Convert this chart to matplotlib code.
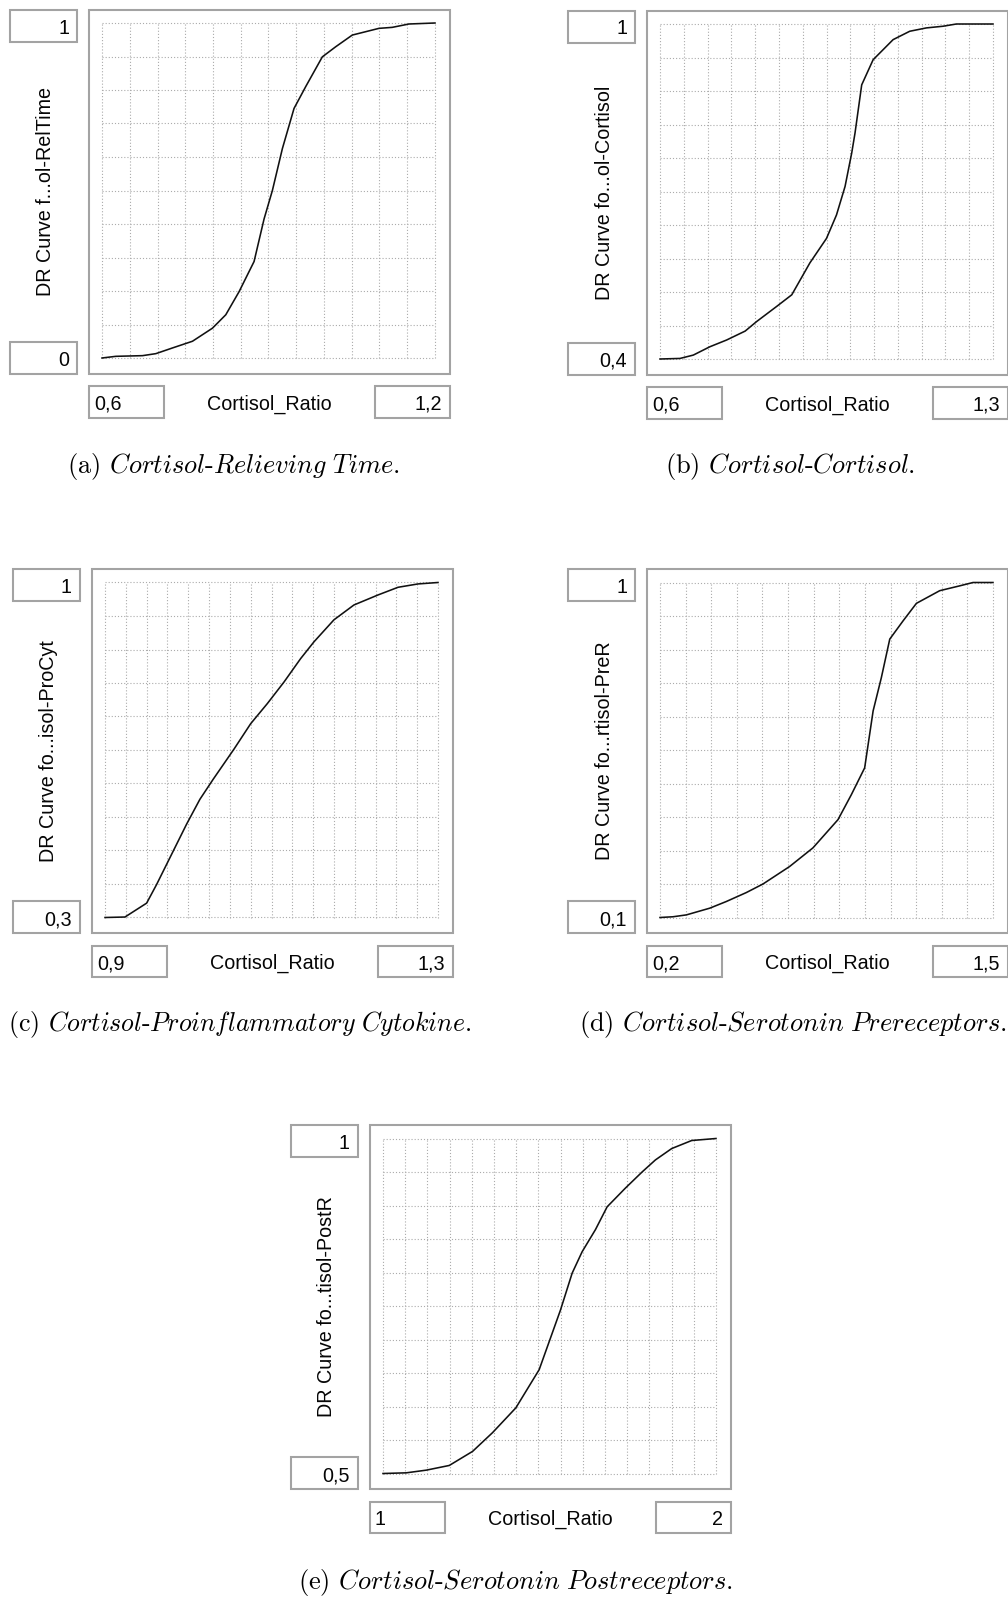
import matplotlib.pyplot as plt
import numpy as np
from matplotlib.patches import Rectangle

plt.rcParams['mathtext.fontset'] = 'cm'

W, H = 1008, 1597

# dose-response curves read from the simulation runs
x_reltime = [0.6, 0.625, 0.673, 0.697, 0.727, 0.763, 0.799, 0.823, 0.847, 0.874,
             0.892, 0.907, 0.925, 0.946, 0.967, 0.997, 1.021, 1.051, 1.099, 1.123,
             1.153, 1.2]
y_reltime = [0.0, 0.005, 0.007, 0.013, 0.030, 0.050, 0.089, 0.129, 0.198, 0.288,
             0.415, 0.500, 0.625, 0.745, 0.810, 0.899, 0.929, 0.964, 0.984, 0.987,
             0.997, 1.0]

x_cortisol = [0.6, 0.642, 0.670, 0.705, 0.740, 0.779, 0.803, 0.845, 0.877, 0.915,
              0.950, 0.971, 0.989, 1.003, 1.010, 1.024, 1.048, 1.090, 1.125, 1.160,
              1.195, 1.223, 1.3]
y_cortisol = [0.4, 0.401, 0.407, 0.422, 0.434, 0.450, 0.467, 0.494, 0.515, 0.572,
              0.616, 0.658, 0.709, 0.769, 0.805, 0.891, 0.936, 0.972, 0.987, 0.993,
              0.996, 1.0, 1.0]

x_procyt = [0.9, 0.924, 0.950, 0.962, 0.978, 0.998, 1.014, 1.030, 1.055, 1.075,
            1.095, 1.115, 1.135, 1.151, 1.175, 1.199, 1.228, 1.252, 1.276, 1.3]
y_procyt = [0.3, 0.301, 0.330, 0.369, 0.425, 0.495, 0.547, 0.589, 0.652, 0.705,
            0.747, 0.792, 0.841, 0.876, 0.922, 0.953, 0.974, 0.990, 0.997, 1.0]

x_prer = [0.2, 0.251, 0.303, 0.394, 0.459, 0.537, 0.602, 0.706, 0.797, 0.895,
          0.947, 0.999, 1.032, 1.064, 1.097, 1.149, 1.201, 1.292, 1.370, 1.422, 1.5]
y_prer = [0.1, 0.102, 0.107, 0.125, 0.143, 0.167, 0.190, 0.237, 0.287, 0.363,
          0.430, 0.502, 0.655, 0.744, 0.848, 0.897, 0.944, 0.978, 0.991, 1.0, 1.0]

x_postr = [1.0, 1.070, 1.130, 1.199, 1.269, 1.329, 1.399, 1.469, 1.533, 1.568,
           1.598, 1.638, 1.673, 1.728, 1.778, 1.818, 1.867, 1.927, 2.0]
y_postr = [0.5, 0.501, 0.505, 0.512, 0.533, 0.561, 0.598, 0.655, 0.744, 0.799,
           0.831, 0.864, 0.898, 0.926, 0.950, 0.968, 0.985, 0.997, 1.0]

curves_x = [x_reltime, x_cortisol, x_procyt, x_prer, x_postr]
curves_y = [y_reltime, y_cortisol, y_procyt, y_prer, y_postr]
x_ranges = [(0.6, 1.2), (0.6, 1.3), (0.9, 1.3), (0.2, 1.5), (1.0, 2.0)]
y_ranges = [(0.0, 1.0), (0.4, 1.0), (0.3, 1.0), (0.1, 1.0), (0.5, 1.0)]
x_divisions = [12, 14, 16, 13, 15]
y_labels = ['DR Curve f...ol-RelTime', 'DR Curve fo...ol-Cortisol',
            'DR Curve fo...isol-ProCyt', 'DR Curve fo...rtisol-PreR',
            'DR Curve fo...tisol-PostR']
x_label = 'Cortisol_Ratio'
captions = [r'(a) $\mathit{Cortisol}$-$\mathit{Relieving\ Time}$.',
            r'(b) $\mathit{Cortisol}$-$\mathit{Cortisol}$.',
            r'(c) $\mathit{Cortisol}$-$\mathit{Proinflammatory\ Cytokine}$.',
            r'(d) $\mathit{Cortisol}$-$\mathit{Serotonin\ Prereceptors}$.',
            r'(e) $\mathit{Cortisol}$-$\mathit{Serotonin\ Postreceptors}$.']

# top-left corner of each widget and where its caption sits (pixels)
origins = [(10, 9.5), (568, 10.5), (13, 569), (568, 569), (291, 1125)]
caption_pos = [(233, 467), (790, 467), (240, 1024), (793, 1024), (516, 1582)]
caption_size = [19, 19, 18.6, 19, 19]

UI_FONT = 'Liberation Sans'
UI_SIZE = 14.2
BORDER = '#a3a3a3'
TXT = '#050505'


def fmt(v):
    return f'{v:g}'.replace('.', ',')


fig = plt.figure(figsize=(W / 100, H / 100), dpi=100)
bg = fig.add_axes([0, 0, 1, 1])
bg.set_xlim(0, W)
bg.set_ylim(H, 0)
bg.axis('off')


def box(x0, y0, x1, y1):
    bg.add_patch(Rectangle((x0, y0), x1 - x0, y1 - y0, facecolor='white',
                           edgecolor=BORDER, lw=1.5))


def value_box(x0, y0, x1, y1, text, align):
    box(x0, y0, x1, y1)
    ty = (y0 + y1) / 2 + 2.5
    if align == 'right':
        bg.text(x1 - 8, ty, text, ha='right', va='center',
                family=UI_FONT, fontsize=UI_SIZE, color=TXT)
    else:
        bg.text(x0 + 5, ty, text, ha='left', va='center',
                family=UI_FONT, fontsize=UI_SIZE, color=TXT)


for i, (ox, oy) in enumerate(origins):
    xmin, xmax = x_ranges[i]
    ymin, ymax = y_ranges[i]

    # y range boxes and label
    value_box(ox, oy, ox + 67, oy + 32, fmt(ymax), 'right')
    value_box(ox, oy + 332, ox + 67, oy + 364, fmt(ymin), 'right')
    bg.text(ox + 36, oy + 182, y_labels[i], rotation=90, ha='center',
            va='center', family=UI_FONT, fontsize=UI_SIZE, color=TXT)

    # plot frame
    box(ox + 79, oy, ox + 440, oy + 364)

    # x range boxes and label
    value_box(ox + 79, oy + 376.5, ox + 154, oy + 408, fmt(xmin), 'left')
    value_box(ox + 365, oy + 376.5, ox + 440, oy + 408, fmt(xmax), 'right')
    bg.text(ox + 259.5, oy + 394.5, x_label, ha='center', va='center',
            family=UI_FONT, fontsize=UI_SIZE, color=TXT)

    # caption
    cx, cy = caption_pos[i]
    bg.text(cx, cy, captions[i], ha='center', va='center', family='cmr10',
            fontsize=caption_size[i])

    # curve area
    ax = fig.add_axes([(ox + 92) / W, 1 - (oy + 348.5) / H, 333 / W, 335 / H])
    ax.patch.set_alpha(0)
    ax.set_xlim(xmin, xmax)
    ax.set_ylim(ymin, ymax)
    ax.set_xticks(np.linspace(xmin, xmax, x_divisions[i] + 1))
    ax.set_yticks(np.linspace(ymin, ymax, 11))
    ax.tick_params(length=0, labelbottom=False, labelleft=False)
    for s in ax.spines.values():
        s.set_visible(False)
    ax.grid(True, color='#ababab', lw=0.8, linestyle=(0, (1, 1.8)))
    for gl in ax.get_xgridlines() + ax.get_ygridlines():
        gl.set_clip_on(False)
    ax.plot(curves_x[i], curves_y[i], color='#111111', lw=1.15, clip_on=False)

fig.savefig('out.png', dpi=100)
